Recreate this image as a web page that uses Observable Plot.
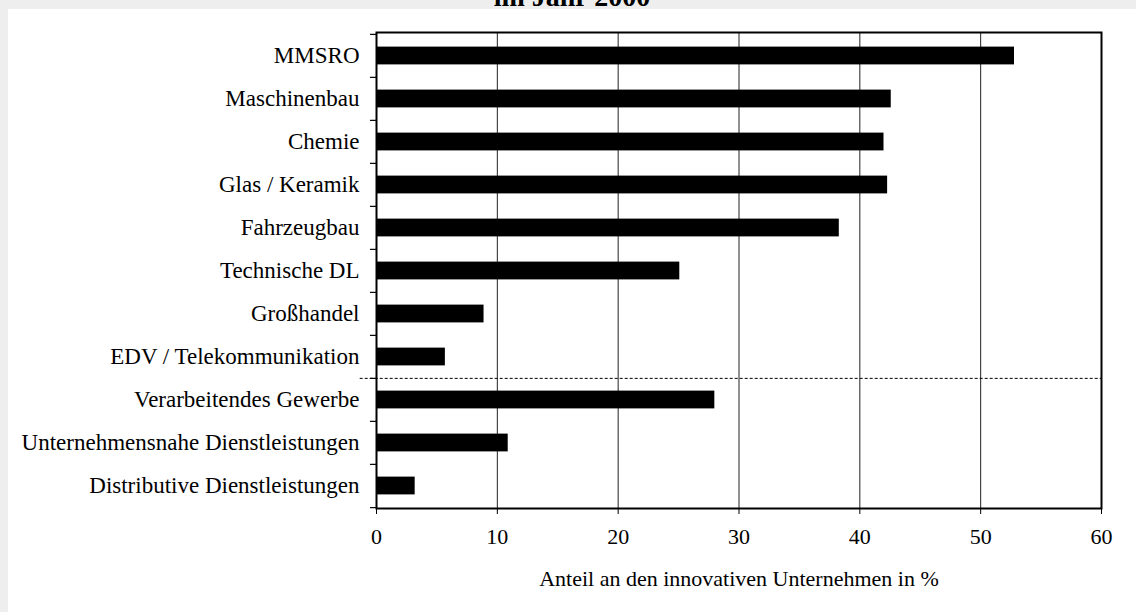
<!DOCTYPE html>
<html><head><meta charset="utf-8">
<script src="https://cdn.jsdelivr.net/npm/d3@7"></script>
<script src="https://cdn.jsdelivr.net/npm/@observablehq/plot@0.6"></script>
<style>
html,body{margin:0;padding:0;background:#eeeeee;}
#wrap{position:relative;width:1136px;height:612px;overflow:hidden;background:#eeeeee;font-family:"Liberation Serif",serif;}
#panel{position:absolute;left:8px;top:9px;right:0;bottom:0;background:#fff;}
#title{position:absolute;left:0;width:1144px;top:-17px;text-align:center;font:bold 28px/28px "Liberation Serif",serif;color:#000;}
#chart{position:absolute;left:0;top:0;}
</style></head><body>
<div id="wrap"><div id="panel"></div><div id="title">im Jahr 2000</div><div id="chart"></div></div>
<script>
const categories = [
  "MMSRO", "Maschinenbau", "Chemie", "Glas / Keramik", "Fahrzeugbau",
  "Technische DL", "Großhandel", "EDV / Telekommunikation",
  "Verarbeitendes Gewerbe", "Unternehmensnahe Dienstleistungen", "Distributive Dienstleistungen"
];
const values = [52.8, 42.6, 42.0, 42.3, 38.3, 25.1, 8.9, 5.7, 28.0, 10.9, 3.2];
const groupBoundary = "Verarbeitendes Gewerbe";
const xTicks = [0, 10, 20, 30, 40, 50, 60];
const gridLines = [10, 20, 30, 40, 50];
const xLabel = "Anteil an den innovativen Unternehmen in %";

const W = 1136, H = 612, mt = 32, mb = 104, ml = 376, mr = 35;
const step = (H - mt - mb) / categories.length;
const data = categories.map((c, i) => ({category: c, value: values[i]}));

const chart = Plot.plot({
  width: W, height: H,
  marginTop: mt, marginBottom: mb, marginLeft: ml, marginRight: mr,
  style: {background: "transparent", fontFamily: "'Liberation Serif', serif", fontSize: "22px", color: "#000", overflow: "visible"},
  x: {domain: [0, 60], ticks: xTicks},
  y: {domain: categories, padding: 0},
  marks: [
    Plot.ruleX(gridLines, {stroke: "#222", strokeWidth: 1}),
    Plot.barX(data, {x: "value", y: "category", fill: "#000", insetTop: 12.6, insetBottom: 12.6}),
    Plot.ruleY(categories, {y: d => d, dy: -step / 2, x1: -0.5, x2: 0, stroke: "#000", strokeWidth: 1.2}),
    Plot.ruleY([categories[categories.length - 1]], {y: d => d, dy: step / 2, x1: -0.5, x2: 0, stroke: "#000", strokeWidth: 1.2}),
    Plot.ruleY([groupBoundary], {y: d => d, dy: -step / 2, x1: -1.35, x2: 60, stroke: "#000", strokeWidth: 1, strokeDasharray: "3,2"}),
    Plot.frame({stroke: "#000", strokeWidth: 2}),
    Plot.axisX({ticks: xTicks, tickSize: 6, tickPadding: 14, tickFormat: d => d, label: xLabel, labelAnchor: "center", labelOffset: 77, labelArrow: false}),
    Plot.axisY({tickSize: 0, tickPadding: 17, label: null, fontSize: 23})
  ]
});
document.getElementById("chart").appendChild(chart);
</script>
</body></html>
